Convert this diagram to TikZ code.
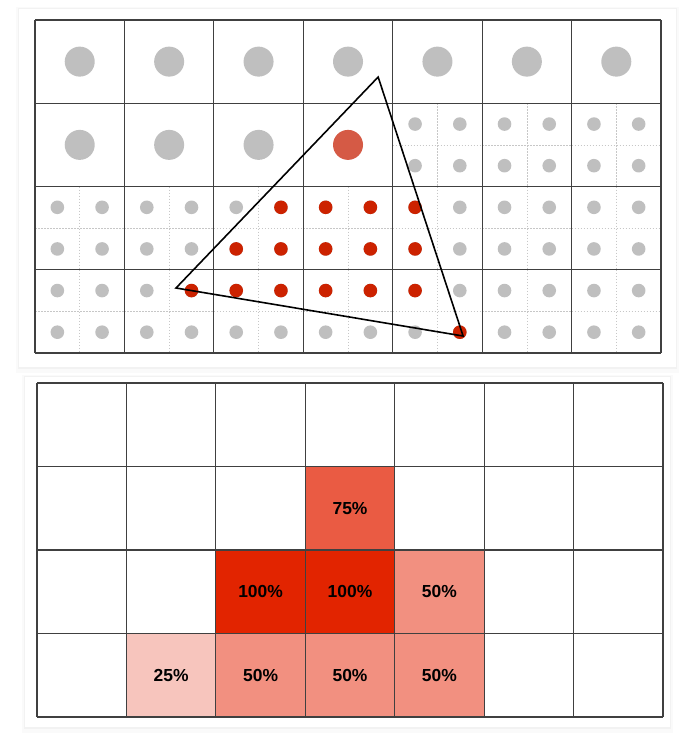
\documentclass[tikz,border=0pt]{standalone}
\usepackage{fontspec}
\setmainfont{Liberation Sans}
\usetikzlibrary{positioning}
\definecolor{dotgray}{HTML}{BFBFBF}
\definecolor{hitred}{HTML}{CC2200}
\definecolor{bigred}{HTML}{D55A45}
\definecolor{cov100}{HTML}{E22400}
\definecolor{cov75}{HTML}{EA5B43}
\definecolor{cov50}{HTML}{F29080}
\definecolor{cov25}{HTML}{F7C5BD}
\tikzset{
    gridline/.style = {draw=black!75, line width=1.1bp},
    subline/.style = {draw=black!22, line width=0.6bp, dash pattern=on 1.5bp off 1.5bp},
    tri/.style = {draw=black, line width=1.6bp, line join=miter},
    covcell/.style = {minimum width=89.43bp, minimum height=83.5bp, inner sep=0pt,
        font=\fontsize{17.5}{20}\selectfont\bfseries}
}

\begin{document}
\begin{tikzpicture}[x=1bp,y=-1bp]
  \useasboundingbox (0,0) rectangle (691,749);
  \foreach \l/\t/\r/\b in {19/9/676/367,25/377/670/727} {
    \fill[black!2] (\l-3,\t-2) rectangle (\r+3,\b+6);
    \fill[black!5] (\l-1,\t-1) rectangle (\r+1,\b+2);
    \fill[white] (\l,\t) rectangle (\r,\b);
  }
  \begin{scope}[shift={(35,20)}, x=89.43bp, y=-83.25bp]
    \foreach \c in {0,...,6}
      \foreach \r in {2,3}
        \draw[subline] (\c+.5,\r) -- (\c+.5,\r+1) (\c,\r+.5) -- (\c+1,\r+.5);
    \foreach \c in {4,5,6}
      \draw[subline] (\c+.5,1) -- (\c+.5,2) (\c,1.5) -- (\c+1,1.5);
    \foreach \c in {0,...,6}
      \fill[dotgray] (\c+.5,.5) circle[radius=15bp];
    \foreach \c in {0,1,2}
      \fill[dotgray] (\c+.5,1.5) circle[radius=15bp];
    \fill[bigred] (3.5,1.5) circle[radius=15bp];
    \foreach \i in {0,...,13}
      \foreach \j in {4,...,7}
        \fill[dotgray] ({(\i+.5)/2},{(\j+.5)/2}) circle[radius=6.8bp];
    \foreach \i in {8,...,13}
      \foreach \j in {2,3}
        \fill[dotgray] ({(\i+.5)/2},{(\j+.5)/2}) circle[radius=6.8bp];
    \foreach \i/\j in {5/4,6/4,7/4,8/4,4/5,5/5,6/5,7/5,8/5,3/6,4/6,5/6,6/6,7/6,8/6,9/7}
      \fill[hitred] ({(\i+.5)/2},{(\j+.5)/2}) circle[radius=6.8bp];
    \foreach \c in {0,...,7}
      \draw[gridline] (\c,0) -- (\c,4);
    \foreach \r in {0,...,4}
      \draw[gridline] (0,\r) -- (7,\r);
    \coordinate (apex) at (3.837,0.685);
    \coordinate (left) at (1.577,3.219);
    \coordinate (right) at (4.787,3.796);
    \draw[tri] (apex) -- (left) -- (right) -- cycle;
  \end{scope}
  \begin{scope}[shift={(37,383)}, x=89.43bp, y=-83.5bp]
    \foreach \c/\r/\shade/\pct in {3/1/cov75/75,2/2/cov100/100,3/2/cov100/100,4/2/cov50/50,
        1/3/cov25/25,2/3/cov50/50,3/3/cov50/50,4/3/cov50/50}
      \node[covcell, fill=\shade] (cell-\c-\r) at (\c+.5,\r+.5) {\pct\%};
    \foreach \c in {0,...,7}
      \draw[gridline] (\c,0) -- (\c,4);
    \foreach \r in {0,...,4}
      \draw[gridline] (0,\r) -- (7,\r);
  \end{scope}
\end{tikzpicture}
\end{document}
